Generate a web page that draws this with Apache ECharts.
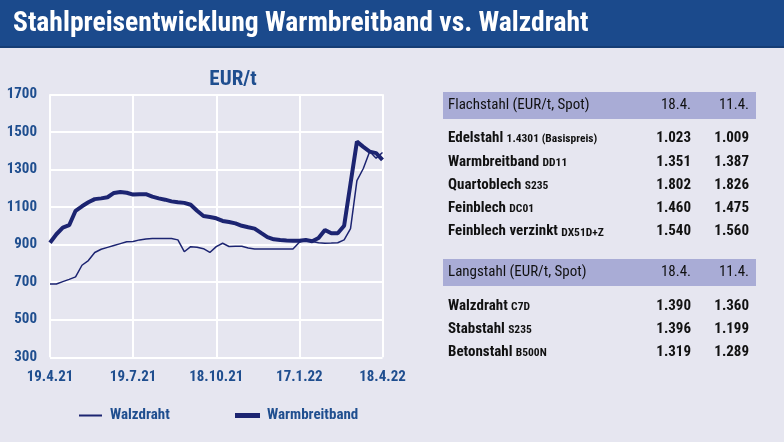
<!DOCTYPE html>
<html><head><meta charset="utf-8">
<script src="https://cdn.jsdelivr.net/npm/echarts@6/dist/echarts.min.js"></script>
<style>html,body{margin:0;padding:0;background:#e6e6f0;}#c{width:784px;height:442px;}</style>
</head><body><div id="c"></div>
<script>
var FONT = '"Liberation Sans Narrow","Roboto Condensed","DejaVu Sans Condensed","Arial Narrow",sans-serif';
var categories = ['19.4.21','26.4.21','3.5.21','10.5.21','17.5.21','24.5.21','31.5.21','7.6.21','14.6.21','21.6.21','28.6.21','5.7.21','12.7.21','19.7.21','26.7.21','2.8.21','9.8.21','16.8.21','23.8.21','30.8.21','6.9.21','13.9.21','20.9.21','27.9.21','4.10.21','11.10.21','18.10.21','25.10.21','1.11.21','8.11.21','15.11.21','22.11.21','29.11.21','6.12.21','13.12.21','20.12.21','27.12.21','3.1.22','10.1.22','17.1.22','24.1.22','31.1.22','7.2.22','14.2.22','21.2.22','28.2.22','7.3.22','14.3.22','21.3.22','28.3.22','4.4.22','11.4.22','18.4.22'];
var warmbreitband = [910,955,990,1003,1080,1104,1125,1142,1146,1152,1175,1180,1176,1166,1168,1168,1155,1146,1139,1130,1125,1122,1112,1080,1052,1047,1040,1026,1020,1013,1000,992,985,962,940,928,924,922,921,921,924,918,935,978,960,960,1000,1225,1448,1420,1395,1387,1351];
var walzdraht = [690,690,703,715,728,790,815,858,875,885,895,905,915,916,925,930,932,932,932,932,925,862,889,886,878,858,889,907,890,891,891,882,877,877,877,877,877,877,877,912,928,916,910,907,908,910,925,985,1240,1305,1395,1360,1390];
var yTicks = {min:300, max:1700, interval:200};
var flachHeader = ['Flachstahl (EUR/t, Spot)','18.4.','11.4.'];
var flachRows = [
  ['Edelstahl','1.4301 (Basispreis)','1.023','1.009'],
  ['Warmbreitband','DD11','1.351','1.387'],
  ['Quartoblech','S235','1.802','1.826'],
  ['Feinblech','DC01','1.460','1.475'],
  ['Feinblech verzinkt','DX51D+Z','1.540','1.560']
];
var langHeader = ['Langstahl (EUR/t, Spot)','18.4.','11.4.'];
var langRows = [
  ['Walzdraht','C7D','1.390','1.360'],
  ['Stabstahl','S235','1.396','1.199'],
  ['Betonstahl','B500N','1.319','1.289']
];

var BLUE = '#1f4e8f', NAVY = '#1c2471', TXT = '#111111';
var graphics = [
  {type:'rect', shape:{x:0,y:0,width:784,height:47}, style:{fill:'#1b4a8c'}, z:0},
  {type:'rect', shape:{x:0,y:46,width:784,height:2}, style:{fill:'#163d75'}, z:0}
];
function addTable(header, rows, barTop, rowStart, rowStep){
  graphics.push({type:'rect', shape:{x:443,y:barTop,width:313,height:27}, style:{fill:'#a9acd6'}});
  graphics.push({type:'text', x:448, y:barTop+13.5, style:{text:header[0], fill:TXT, font:'15px '+FONT, verticalAlign:'middle'}});
  graphics.push({type:'text', x:691, y:barTop+13.5, style:{text:header[1], fill:TXT, font:'15px '+FONT, align:'right', verticalAlign:'middle'}});
  graphics.push({type:'text', x:749, y:barTop+13.5, style:{text:header[2], fill:TXT, font:'15px '+FONT, align:'right', verticalAlign:'middle'}});
  rows.forEach(function(r,i){
    var y = rowStart + i*rowStep;
    graphics.push({type:'text', x:448, y:y, style:{
      text:'{a|'+r[0]+'} {b|'+r[1]+'}', verticalAlign:'middle',
      rich:{a:{fontFamily:FONT, fontSize:15, fontWeight:'bold', fill:TXT, color:TXT},
            b:{fontFamily:FONT, fontSize:11.5, fontWeight:'bold', fill:TXT, color:TXT, padding:[2,0,0,0]}}
    }});
    graphics.push({type:'text', x:691, y:y, style:{text:r[2], fill:TXT, font:'bold 15px '+FONT, align:'right', verticalAlign:'middle'}});
    graphics.push({type:'text', x:749, y:y, style:{text:r[3], fill:TXT, font:'bold 15px '+FONT, align:'right', verticalAlign:'middle'}});
  });
}
addTable(flachHeader, flachRows, 92, 138.5, 23.3);
addTable(langHeader, langRows, 259, 306, 23.3);

var chart = echarts.init(document.getElementById('c'), null, {renderer:'canvas'});
chart.setOption({
  backgroundColor:'#e6e6f0',
  animation:false,
  title:[
    {text:'Stahlpreisentwicklung Warmbreitband vs. Walzdraht', left:8, top:5,
     textStyle:{color:'#ffffff', fontFamily:FONT, fontWeight:'bold', fontSize:27.6}},
    {text:'EUR/t', left:228, top:64, textAlign:'center',
     textStyle:{color:BLUE, fontFamily:FONT, fontWeight:'bold', fontSize:21}}
  ],
  graphic:graphics,
  grid:{left:50, right:401.5, top:94.3, bottom:84.7, containLabel:false},
  legend:[
    {data:['Walzdraht'], left:74, top:403, icon:'rect', itemWidth:23, itemHeight:2,
     textStyle:{color:BLUE, fontFamily:FONT, fontWeight:'bold', fontSize:15, padding:[0,0,0,3]}},
    {data:['Warmbreitband'], left:230, top:403, icon:'rect', itemWidth:25, itemHeight:5,
     textStyle:{color:BLUE, fontFamily:FONT, fontWeight:'bold', fontSize:15, padding:[0,0,0,2]}}
  ],
  xAxis:{type:'category', data:categories, boundaryGap:false,
    axisLine:{show:false}, axisTick:{show:false},
    axisLabel:{interval:12, color:BLUE, fontFamily:FONT, fontWeight:'bold', fontSize:15, margin:12, showMaxLabel:true},
    splitLine:{show:true, interval:12, lineStyle:{color:'#ffffff', width:2}}},
  yAxis:{type:'value', min:yTicks.min, max:yTicks.max, interval:yTicks.interval,
    axisLine:{show:false}, axisTick:{show:false},
    axisLabel:{color:BLUE, fontFamily:FONT, fontWeight:'bold', fontSize:15, margin:13,
      formatter:function(v){ return String(v); }},
    splitLine:{lineStyle:{color:'#ffffff', width:2}}},
  series:[
    {name:'Walzdraht', type:'line', data:walzdraht, symbol:'none', lineStyle:{color:NAVY, width:1.5}, itemStyle:{color:NAVY}, z:3},
    {name:'Warmbreitband', type:'line', data:warmbreitband, symbol:'none', lineStyle:{color:NAVY, width:4}, itemStyle:{color:NAVY}, z:2}
  ]
});
</script></body></html>
